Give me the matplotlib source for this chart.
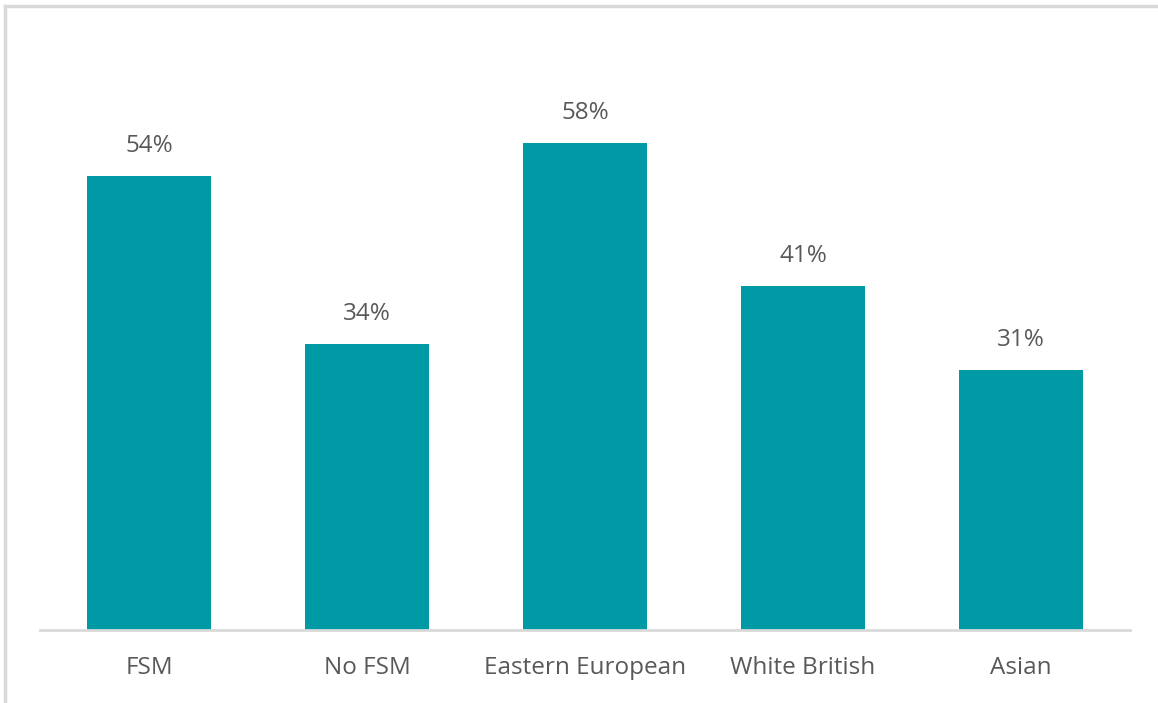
import matplotlib
matplotlib.use("Agg")
import matplotlib.pyplot as plt
from matplotlib.lines import Line2D

categories = ["FSM", "No FSM", "Eastern European", "White British", "Asian"]
values = [54, 34, 58, 41, 31]

BAR_COLOR = "#009AA6"
TEXT_COLOR = "#595959"
GRID_COLOR = "#D9D9D9"

plt.rcParams["font.family"] = ["Open Sans", "DejaVu Sans"]

fig = plt.figure(figsize=(11.58, 7.03), dpi=100)
fig.patch.set_facecolor("white")

# chart frame: top and left edges
fig.add_artist(Line2D([0.0045, 1.0], [0.9915, 0.9915], transform=fig.transFigure,
                      color=GRID_COLOR, linewidth=2.5))
fig.add_artist(Line2D([0.0045, 0.0045], [0.0, 0.9915], transform=fig.transFigure,
                      color=GRID_COLOR, linewidth=2.5))

ax = fig.add_axes([40 / 1158, 73 / 703, 1090 / 1158, 588 / 703])
x = range(len(categories))
bars = ax.bar(x, values, width=0.573, color=BAR_COLOR, zorder=2)

ax.set_xlim(-0.5, len(categories) - 0.5)
ax.set_ylim(0, 70)

for rect, v in zip(bars, values):
    ax.annotate(f"{v}%", (rect.get_x() + rect.get_width() / 2, v),
                xytext=(0, 13), textcoords="offset points",
                ha="center", va="bottom", fontsize=17.5, color=TEXT_COLOR)

ax.set_xticks(list(x))
ax.set_xticklabels(categories, fontsize=17.5, color=TEXT_COLOR)
ax.tick_params(axis="x", length=0, pad=19)
ax.set_yticks([])

for side in ["top", "right", "left"]:
    ax.spines[side].set_visible(False)
ax.spines["bottom"].set_color(GRID_COLOR)
ax.spines["bottom"].set_linewidth(2)
ax.set_facecolor("none")

fig.savefig("out.png", dpi=100)
